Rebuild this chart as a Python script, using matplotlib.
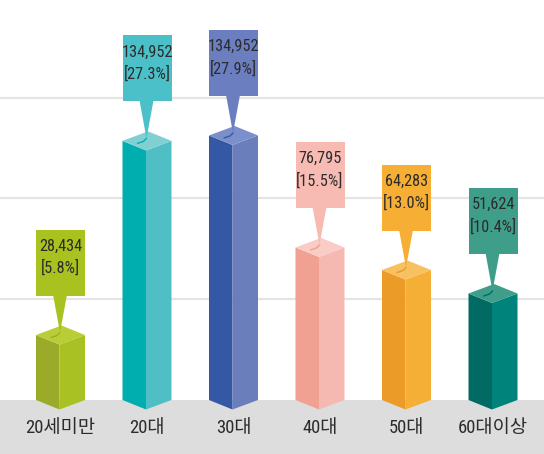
import matplotlib
matplotlib.use("Agg")
import matplotlib.pyplot as plt
from matplotlib import font_manager as fm
from matplotlib.patches import Polygon, Rectangle

# ---------------- data ----------------
categories = ['20세미만', '20대', '30대', '40대', '50대', '60대이상']
counts = [28434, 134952, 134952, 76795, 64283, 51624]
shares = [5.8, 27.3, 27.9, 15.5, 13.0, 10.4]

# ---------------- style ----------------
left_cols = ['#9aab2a', '#00aeb0', '#3558a5', '#f0a191', '#eb9b27', '#006a63']
right_cols = ['#a9c122', '#4fbfc5', '#6a7ebc', '#f6b9b1', '#f5ae36', '#00837a']
top_cols = ['#b9ce36', '#80d0d3', '#7b8fcc', '#f9ccc5', '#f7c060', '#3f9e8a']
box_cols = ['#aac21f', '#4cc0c8', '#6b7fc0', '#f7bbb3', '#f6ae35', '#3f9e89']
text_col = '#2b2b2b'

W, H, DPI = 544, 454, 100
fig = plt.figure(figsize=(W / DPI, H / DPI), dpi=DPI)
ax = fig.add_axes([0, 0, 1, 1])
ax.set_axis_off()

# scale: pixels per unit
PXX = 86.5          # px per category step
PXY = 9.03          # px per percent point
X0 = 60.5           # px of first category centre
Y0 = 387.4          # px (from top) of value 0
ax.set_xlim(-X0 / PXX, (W - X0) / PXX)
ax.set_ylim(-(H - Y0) / PXY, Y0 / PXY)
px = 1.0 / PXX
py = 1.0 / PXY

FLOOR = -12.6 * py       # top of grey floor band

# pick a narrow font if available
names = {f.name for f in fm.fontManager.ttflist}
narrow = None
for cand in ['Roboto Condensed', 'Liberation Sans Narrow', 'Open Sans Condensed',
             'Noto Sans Condensed', 'DejaVu Sans Condensed']:
    if cand in names:
        narrow = cand
        break
stretch = 'normal'
if narrow is None:
    for f in fm.fontManager.ttflist:
        if f.name == 'DejaVu Sans' and f.stretch in ('condensed', 'semi-condensed') and f.style == 'normal':
            narrow = 'DejaVu Sans'
            stretch = 'condensed'
            break
if narrow is None:
    narrow = 'DejaVu Sans'
num_family = [narrow, 'DejaVu Sans']
cat_family = [narrow, 'Noto Sans CJK KR', 'DejaVu Sans']

# grey floor and gridlines
ax.axhspan(ax.get_ylim()[0], FLOOR, color='#dddddd', zorder=0, lw=0)
for g in [(Y0 - 299) * py, (Y0 - 198) * py, (Y0 - 97.5) * py]:
    ax.axhline(g, color='#e4e4e4', lw=1.6, zorder=0.5)

half = 24.5 * px
d = 9.5 * py
num_texts = []
cat_texts = []
for i, (cat, c, s) in enumerate(zip(categories, counts, shares)):
    left, right = i - half, i + half
    front = i - 1.0 * px
    back = left + right - front
    v = s
    # left face
    ax.add_patch(Polygon([(left, FLOOR), (left, v), (front, v - d), (front, FLOOR - d)],
                         closed=True, fc=left_cols[i], ec='none', zorder=2))
    # right face
    ax.add_patch(Polygon([(front, FLOOR - d), (front, v - d), (right, v), (right, FLOOR)],
                         closed=True, fc=right_cols[i], ec='none', zorder=2))
    # top face
    ax.add_patch(Polygon([(left, v), (back, v + d), (right, v), (front, v - d)],
                         closed=True, fc=top_cols[i], ec='none', zorder=2))
    # label box
    b0 = v + d + 30 * py
    b1 = b0 + 66 * py
    ax.add_patch(Rectangle((left, b0), right - left, b1 - b0, fc=box_cols[i], ec='none', zorder=3))
    tip_x, tip_y = front + 0.5 * px, v + d - 7 * py
    ax.add_patch(Polygon([(i - 7.5 * px, b0 + 1 * py), (i + 6.5 * px, b0 + 1 * py), (tip_x, tip_y)],
                         closed=True, fc=box_cols[i], ec='none', zorder=3))
    # small crack on top face
    ax.plot([tip_x, tip_x - 3 * px, tip_x - 9 * px], [tip_y, tip_y - 3 * py, tip_y - 5 * py],
            color=left_cols[i], lw=1.0, zorder=3, solid_capstyle='round')
    t1 = ax.text(i, b1 - 16.5 * py, f'{c:,}', ha='center', va='center', color=text_col,
                 family=num_family, fontstretch=stretch, fontsize=12, zorder=4)
    t2 = ax.text(i, b1 - 38.5 * py, f'[{s:.1f}%]', ha='center', va='center', color=text_col,
                 family=num_family, fontstretch=stretch, fontsize=12, zorder=4)
    num_texts += [t1, t2]
    ct = ax.text(i, (Y0 - 428.5) * py, cat, ha='center', va='center', color=text_col,
                 family=cat_family, fontstretch=stretch, fontsize=12, zorder=4)
    cat_texts.append(ct)

# fit font sizes to target widths
fig.canvas.draw()
r = fig.canvas.get_renderer()
wnum = num_texts[2].get_window_extent(r).width        # "134,952"
fs_num = min(15.0, 12 * 51.0 / wnum)
for t in num_texts:
    t.set_fontsize(fs_num)
wcat = cat_texts[0].get_window_extent(r).width        # "20세미만"
fs_cat = min(14.0, 12 * 70.0 / wcat)
for t in cat_texts:
    t.set_fontsize(fs_cat)

fig.savefig('out.png', dpi=DPI, facecolor='white')
